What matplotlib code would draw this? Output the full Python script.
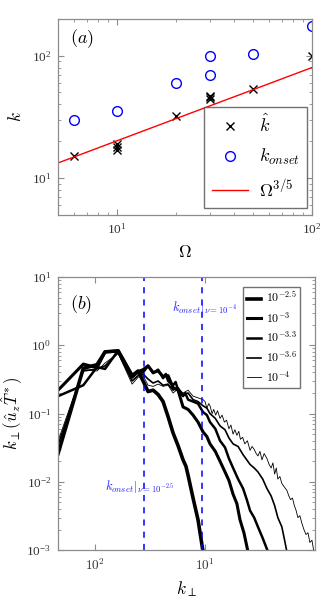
import matplotlib
matplotlib.use("Agg")
import matplotlib.pyplot as plt
from matplotlib.ticker import NullLocator, FixedLocator, FixedFormatter
import numpy as np

plt.rcParams['font.family'] = ['Liberation Serif', 'DejaVu Serif']
plt.rcParams['mathtext.fontset'] = 'cm'

# ---------------- panel (a) ----------------
omega_hat = [6, 10, 10, 10, 20, 30, 30, 30, 50, 100]
k_hat = [15, 17, 18, 19, 32, 44, 46, 47, 53, 100]
omega_onset = [6, 10, 20, 30, 30, 50, 100]
k_onset = [30, 35, 60, 69, 100, 103, 175]
fit_omega = [5, 100]
fit_prefactor = 5.05

# ---------------- panel (b) ----------------
nu_labels = [r'$10^{-2.5}$', r'$10^{-3}$', r'$10^{-3.3}$', r'$10^{-3.6}$', r'$10^{-4}$']
nu_widths = [2.6, 2.2, 1.8, 1.2, 0.6]

k1 = [4.6, 7.8, 10.4, 12.3, 16.2, 21.7, 24.6, 27.3, 30.3, 33.7, 37.4, 41.5, 46.1,
      51.2, 56.8, 63.1, 67.0, 70.1, 77.8, 86.3, 95.9]
s1 = [0.026, 0.46, 0.52, 0.80, 0.83, 0.36, 0.42, 0.30, 0.21, 0.22, 0.19, 0.15, 0.09,
      0.052, 0.034, 0.021, 0.017, 0.0125, 0.0058, 0.0028, 0.00095]

k2 = [4.6, 7.8, 10.4, 12.3, 16.2, 21.7, 24.6, 27.3, 30.3, 33.7, 37.4, 41.5, 46.1,
      51.2, 56.8, 63.1, 70.1, 77.8, 86.3, 95.9, 104, 111, 124, 137, 152, 165, 180,
      195, 208, 226, 246]
s2 = [0.22, 0.53, 0.47, 0.80, 0.82, 0.34, 0.41, 0.44, 0.50, 0.40, 0.42, 0.35, 0.36,
      0.24, 0.22, 0.125, 0.115, 0.095, 0.075, 0.054, 0.046, 0.036, 0.028, 0.02, 0.014,
      0.0105, 0.0066, 0.0048, 0.0028, 0.0018, 0.00095]

k3 = [4.6, 7.8, 10.4, 12.3, 16.2, 21.7, 24.6, 27.3, 30.3, 33.7, 37.4, 41.5, 44.0,
      46.1, 51.2, 54.0, 56.8, 63.1, 66.0, 70.1, 77.8, 86.3, 95.9, 104, 111, 124, 137,
      152, 165, 180, 200, 222, 240, 257, 280, 303, 335, 374]
s3 = [0.18, 0.26, 0.48, 0.45, 0.84, 0.36, 0.40, 0.40, 0.50, 0.39, 0.44, 0.33, 0.38,
      0.30, 0.26, 0.29, 0.22, 0.18, 0.20, 0.16, 0.15, 0.14, 0.105, 0.095, 0.075, 0.06,
      0.04, 0.032, 0.022, 0.016, 0.011, 0.008, 0.0055, 0.0038, 0.003, 0.0022, 0.0015,
      0.00095]

k4 = [4.6, 7.8, 10.4, 12.3, 16.2, 21.7, 24.6, 27.3, 30.3, 33.7, 37.4, 41.5, 46.1,
      51.2, 56.8, 63.1, 70.1, 77.8, 86.3, 95.9, 104, 111, 124, 137, 152, 165, 180,
      200, 222, 240, 257, 280, 303, 335, 366, 400, 430, 460, 500, 530, 556]
s4 = [0.035, 0.42, 0.45, 0.50, 0.78, 0.30, 0.36, 0.38, 0.32, 0.28, 0.30, 0.26, 0.27,
      0.22, 0.24, 0.19, 0.20, 0.16, 0.15, 0.13, 0.12, 0.10, 0.085, 0.066, 0.058,
      0.044, 0.036, 0.033, 0.025, 0.021, 0.018, 0.016, 0.014, 0.011, 0.008, 0.0062,
      0.0045, 0.003, 0.0022, 0.0014, 0.00095]

k5 = [4.6, 7.8, 10.4, 12.3, 16.2, 21.7, 24.6, 27.3, 30.3, 33.7, 37.4, 41.5, 46.1,
      51.2, 56.8, 63.1, 70.1, 77.8, 86.3, 95.9, 100, 104, 108, 111, 116, 120, 125,
      130, 137, 143, 150, 157, 165, 172, 180, 187, 195, 203, 210, 220, 230, 243, 257,
      268, 280, 292, 303, 316, 330, 345, 366, 383, 400, 415, 430, 445, 460, 480, 500,
      525, 556, 580, 600, 625, 650, 675, 700, 730, 760, 795, 830, 865, 900, 940, 979]
s5 = [0.04, 0.44, 0.42, 0.55, 0.76, 0.27, 0.34, 0.36, 0.26, 0.25, 0.27, 0.25, 0.26,
      0.20, 0.23, 0.20, 0.22, 0.18, 0.17, 0.16, 0.15, 0.12, 0.14, 0.13, 0.10, 0.115,
      0.095, 0.11, 0.085, 0.095, 0.075, 0.08, 0.06, 0.068, 0.05, 0.058, 0.048, 0.055,
      0.042, 0.045, 0.036, 0.04, 0.029, 0.033, 0.03, 0.026, 0.024, 0.028, 0.021, 0.026,
      0.022, 0.018, 0.016, 0.019, 0.013, 0.016, 0.011, 0.012, 0.0095, 0.0085, 0.0075,
      0.0062, 0.0055, 0.0058, 0.0045, 0.0038, 0.003, 0.0032, 0.0025, 0.002, 0.0017,
      0.0018, 0.0013, 0.0014, 0.00095]

k_onset_lines = [28, 94]

spine_col = '0.55'
tick_col = '0.2'

fig = plt.figure(figsize=(3.21, 6.10), dpi=100)

# ================= (a) =================
ax1 = fig.add_axes([0.181, 0.648, 0.791, 0.321])
ax1.set_xscale('log')
ax1.set_yscale('log')
ax1.plot(omega_hat, k_hat, 'x', color='k', ms=5.5, mew=1.0, label=r'$\hat{k}$')
ax1.plot(omega_onset, k_onset, 'o', mfc='none', mec='#0000ff', ms=7, mew=1.0,
         label=r'$k_{onset}$')
fit_x = np.array(fit_omega, dtype=float)
ax1.plot(fit_x, fit_prefactor * fit_x ** 0.6, color='#ff0000', lw=1.0,
         label=r'$\Omega^{3/5}$')
ax1.set_xlim(5, 100)
ax1.set_ylim(5, 200)
ax1.set_xlabel(r'$\Omega$', fontsize=12.5, labelpad=6)
ax1.set_ylabel(r'$k$', fontsize=12.5, labelpad=5)
ax1.text(0.045, 0.9, r'$(a)$', transform=ax1.transAxes, fontsize=13, va='center')
leg1 = ax1.legend(loc='lower right', fontsize=13, frameon=True, fancybox=False,
                  edgecolor='0.3', handlelength=2.0, borderpad=0.4, labelspacing=0.6,
                  handletextpad=0.6, borderaxespad=0, bbox_to_anchor=(0.98, 0.035))
leg1.get_frame().set_linewidth(1.0)

# ================= (b) =================
ax2 = fig.add_axes([0.181, 0.098, 0.800, 0.448])
ax2.set_xscale('log')
ax2.set_yscale('log')
for kk, ss, lab, lw in zip([k1, k2, k3, k4, k5], [s1, s2, s3, s4, s5], nu_labels, nu_widths):
    ax2.plot(kk, ss, color='k', lw=lw, label=lab)
for kx in k_onset_lines:
    ax2.axvline(kx, color='#0000ff', ls=(0, (4, 4)), lw=1.1)
ax2.text(100, 3.6, r'$k_{onset}|_{\nu=10^{-4}}$', color='#2020ff', fontsize=9,
         ha='center', va='center')
ax2.text(25.5, 0.0087, r'$k_{onset}|_{\nu=10^{-2.5}}$', color='#2020ff', fontsize=9,
         ha='center', va='center')
ax2.set_xlim(4.6, 1000)
ax2.set_ylim(1e-3, 10)
ax2.xaxis.set_major_locator(FixedLocator([10, 100]))
ax2.xaxis.set_major_formatter(FixedFormatter([r'$10^2$', r'$10^1$']))
ax2.xaxis.set_minor_locator(NullLocator())
ax2.set_xlabel(r'$k_\perp$', fontsize=12.5, labelpad=5)
ax2.set_ylabel(r'$k_\perp(\hat{u}_z\hat{T}^*)$', fontsize=12, labelpad=1)
ax2.text(0.045, 0.9, r'$(b)$', transform=ax2.transAxes, fontsize=13, va='center')
leg2 = ax2.legend(loc='upper right', fontsize=8.5, frameon=True, fancybox=False,
                  edgecolor='0.3', handlelength=1.2, borderpad=0.3, labelspacing=0.4,
                  handletextpad=0.4, bbox_to_anchor=(0.965, 0.985))
leg2.get_frame().set_linewidth(1.0)

for ax in (ax1, ax2):
    for sp in ax.spines.values():
        sp.set_color(spine_col)
        sp.set_linewidth(0.9)
    ax.tick_params(which='both', direction='in', top=True, right=True,
                   colors=spine_col, labelcolor=tick_col, labelsize=9.5)
    ax.tick_params(which='major', length=4, pad=5)
    ax.tick_params(which='minor', length=2)

fig.savefig('out.png', dpi=100)
